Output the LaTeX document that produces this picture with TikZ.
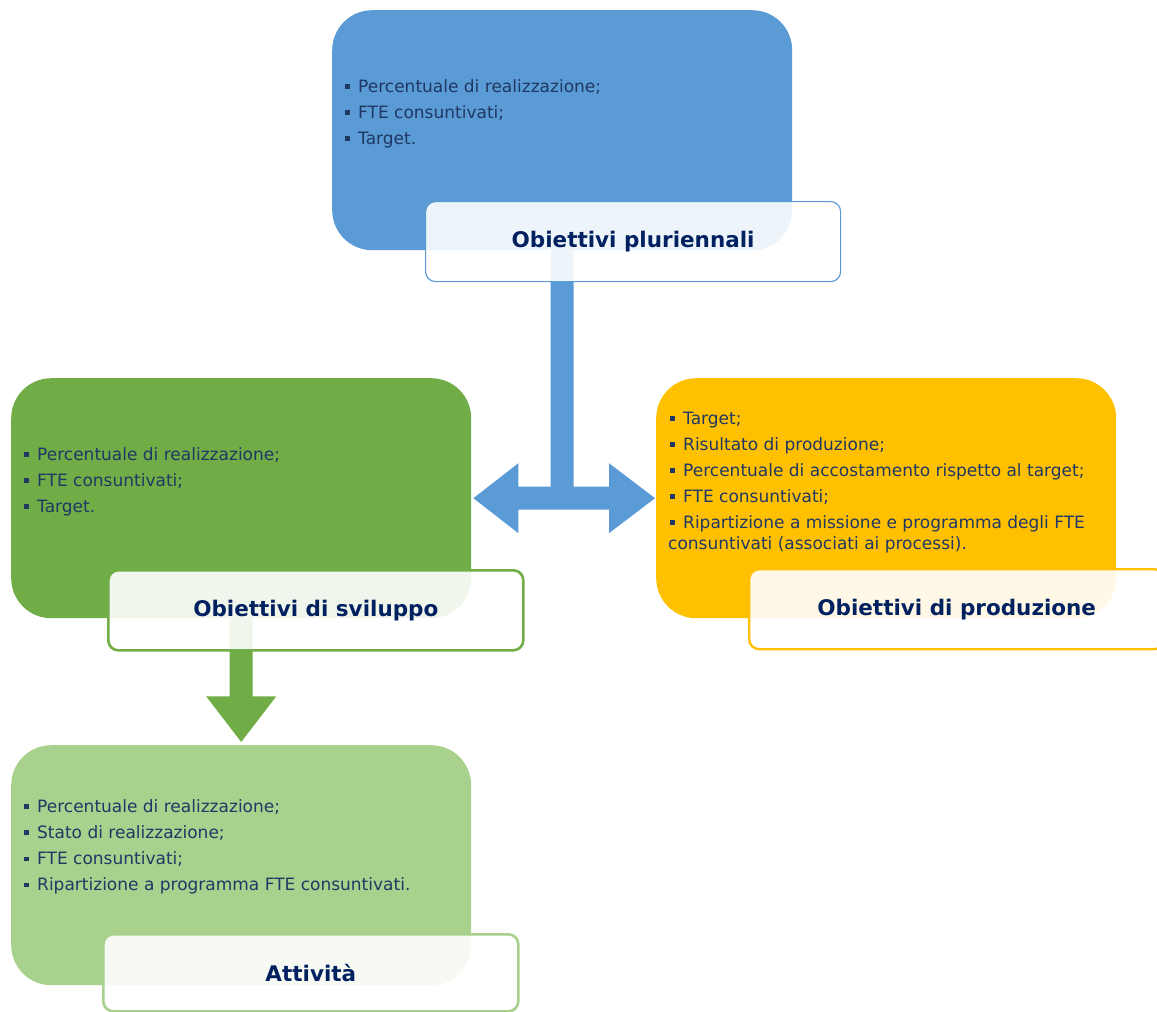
\documentclass[tikz,border=0pt]{standalone}
\usepackage{fontspec}
\setmainfont{DejaVu Sans}
\usetikzlibrary{calc}
\definecolor{cblue}{HTML}{5B9BD5}
\definecolor{cgreen}{HTML}{70AD47}
\definecolor{clgreen}{HTML}{A9D18E}
\definecolor{cyellow}{HTML}{FFC000}
\definecolor{txt}{HTML}{1F3864}
\definecolor{hd}{HTML}{002060}
\newcommand\mybullet{\raisebox{3.5pt}{\rule{4.5pt}{4.5pt}}\hspace{8.5pt}}
\begin{document}
\begin{tikzpicture}[x=1pt,y=-1pt,
  bigbox/.style={rounded corners=40pt, draw=none, minimum width=460pt, minimum height=240pt, anchor=north west, inner sep=0pt},
  labbox/.style={rounded corners=10pt, fill=white, fill opacity=0.9, text opacity=1, minimum width=415pt, minimum height=80pt, anchor=north west, inner sep=0pt, text=hd, font=\bfseries\fontsize{21.5}{24}\selectfont},
  item/.style={anchor=base west, inner sep=0pt, text=txt, font=\fontsize{17}{20}\selectfont},
]
\useasboundingbox (0,0) rectangle (1157,1012);
% main boxes
\node[bigbox, fill=cblue] (pl) at (332,10) {};
\node[bigbox, fill=cgreen] (sv) at (11,378) {};
\node[bigbox, fill=cyellow] (pr) at (656,378) {};
\node[bigbox, fill=clgreen] (ac) at (11,745) {};
% blue T connector with double arrow
\coordinate (bt) at (pl.south);
\coordinate (tl) at ($(sv.east)+(2,0)$);
\coordinate (tr) at ($(pr.west)+(-1,0)$);
\fill[cblue] ($(bt)+(-11.5,0)$) -- ($(bt |- tl)+(-11.5,-11.5)$) -- ($(tl)+(45,-11.5)$)
  -- ($(tl)+(45,-35)$) -- (tl) -- ($(tl)+(45,35)$) -- ($(tl)+(45,11.5)$)
  -- ($(tr)+(-46,11.5)$) -- ($(tr)+(-46,35)$) -- (tr) -- ($(tr)+(-46,-35)$)
  -- ($(tr)+(-46,-11.5)$) -- ($(bt |- tr)+(11.5,-11.5)$) -- ($(bt)+(11.5,0)$) -- cycle;
% green down arrow
\coordinate (gt) at ($(ac.north)+(0,-3)$);
\fill[cgreen] ($(sv.south)+(-11.5,0)$) -- ($(sv.south)+(-11.5,78)$) -- ($(sv.south)+(-35,78)$)
  -- (gt) -- ($(sv.south)+(35,78)$) -- ($(sv.south)+(11.5,78)$) -- ($(sv.south)+(11.5,0)$) -- cycle;
% label boxes
\node[labbox, draw=cblue, line width=1.2pt] (plL) at (425,201) {Obiettivi pluriennali};
\node[labbox, draw=cgreen, line width=2.6pt] (svL) at (107,569) {Obiettivi di sviluppo};
\node[labbox, draw=cyellow, line width=2.4pt] (prL) at (748,568) {Obiettivi di produzione};
\node[labbox, draw=clgreen, line width=2.6pt, minimum height=77pt] (acL) at (102,933) {Attività};
% texts
\foreach \t [count=\i] in {Percentuale di realizzazione;, FTE consuntivati;, Target.}
  \node[item] (plt\i) at (345,{92+26*(\i-1)}) {\mybullet\t};
\foreach \t [count=\i] in {Percentuale di realizzazione;, FTE consuntivati;, Target.}
  \node[item] (svt\i) at (24,{460+26*(\i-1)}) {\mybullet\t};
\foreach \t [count=\i] in {Target;, Risultato di produzione;, Percentuale di accostamento rispetto al target;, FTE consuntivati;, Ripartizione a missione e programma degli  FTE}
  \node[item] (prt\i) at (670,{424+26*(\i-1)}) {\mybullet\t};
\node[item] (prt6) at (668,549) {consuntivati (associati ai processi).};
\foreach \t [count=\i] in {Percentuale di realizzazione;, Stato di realizzazione;, FTE consuntivati;, Ripartizione a programma FTE consuntivati.}
  \node[item] (act\i) at (24,{812+26.3*(\i-1)}) {\mybullet\t};
\end{tikzpicture}
\end{document}
